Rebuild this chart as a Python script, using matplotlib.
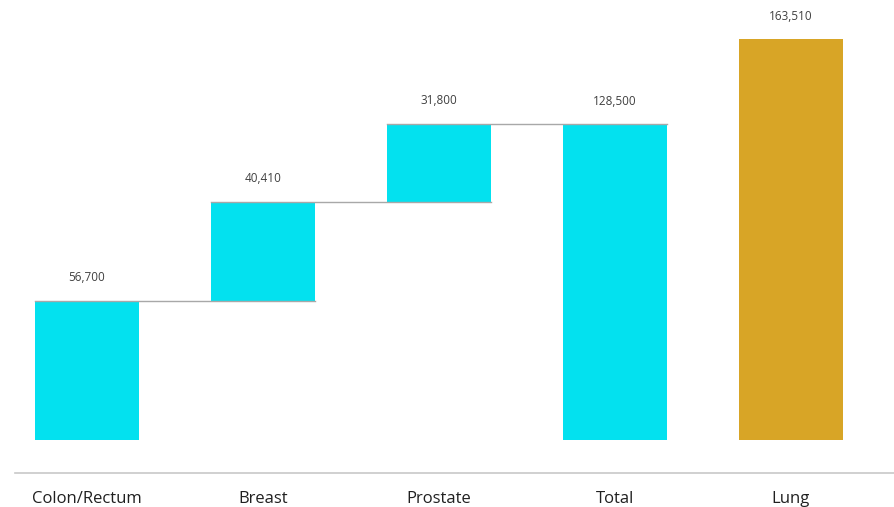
import matplotlib
matplotlib.use("Agg")
import matplotlib.pyplot as plt
import numpy as np

categories = ["Colon/Rectum", "Breast", "Prostate", "Total", "Lung"]
steps = [56700, 40410, 31800]
total = 128500
lung = 163510

plt.rcParams['font.family'] = ['Open Sans', 'DejaVu Sans']

fig = plt.figure(figsize=(8.94, 5.07), dpi=100)
ax = fig.add_axes([15/894, 1 - 473/507, 1 - 15/894, 473/507])

cyan = "#03E1EF"
gold = "#D8A526"
w = 0.59

bottoms = list(np.cumsum([0] + steps[:-1]))
x = np.arange(len(categories))
heights = steps + [total, lung]
base = bottoms + [0, 0]
colors = [cyan, cyan, cyan, cyan, gold]

ax.bar(x, heights, bottom=base, width=w, color=colors, zorder=2)

# connectors
tops = [b + h for b, h in zip(base, heights)]
for i in range(3):
    ax.plot([x[i] - w/2, x[i+1] + w/2], [tops[i], tops[i]], color="#A8A8A8",
            lw=1.0, zorder=3)

labels = steps + [total, lung]
for xi, t, v in zip(x, tops, labels):
    ax.annotate(f"{v:,}", (xi, t), xytext=(0, 12), textcoords="offset points",
                ha="center", va="bottom", fontsize=8.5, color="#404040")

ax.set_xlim(-72/176, (894-87)/176)
scale = 408
ax.set_ylim(-33*scale, 440*scale)

for s in ["top", "right", "left"]:
    ax.spines[s].set_visible(False)
ax.spines["bottom"].set_color("#C8C8C8")
ax.spines["bottom"].set_linewidth(1.2)
ax.set_yticks([])
ax.set_xticks(x)
ax.set_xticklabels(categories, fontsize=12, color="#202020")
ax.tick_params(axis="x", length=0, pad=13)

fig.savefig("out.png", dpi=100)
